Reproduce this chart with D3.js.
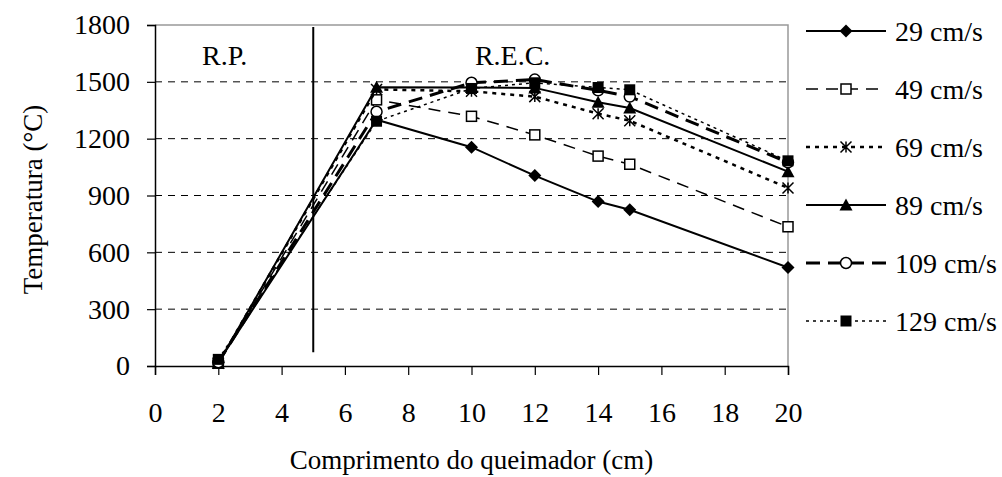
<!DOCTYPE html>
<html>
<head>
<meta charset="utf-8">
<script src="https://cdn.jsdelivr.net/npm/d3@7/dist/d3.min.js"></script>
<style>
  html, body { margin: 0; padding: 0; background: #fff; }
  svg text { font-family: "Liberation Serif", Tinos, "Times New Roman", "DejaVu Serif", serif !important; fill: #000; }
</style>
</head>
<body>
<svg id="chart" width="1002" height="477"></svg>
<script>
// Burner length positions (cm)
const positions = [2, 7, 10, 12, 14, 15, 20];

// Temperature (°C) per flow velocity
const v29  = [20, 1300, 1155, 1005, 868, 825, 520];
const v49  = [15, 1405, 1318, 1220, 1108, 1065, 735];
const v69  = [15, 1460, 1450, 1422, 1332, 1295, 940];
const v89  = [15, 1472, 1470, 1468, 1392, 1362, 1026];
const v109 = [20, 1342, 1495, 1512, 1455, 1422, 1075];
const v129 = [35, 1292, 1465, 1495, 1470, 1458, 1083];

const seriesNames = ["29 cm/s", "49 cm/s", "69 cm/s", "89 cm/s", "109 cm/s", "129 cm/s"];
const xTicks = [0, 2, 4, 6, 8, 10, 12, 14, 16, 18, 20];
const yTicks = [0, 300, 600, 900, 1200, 1500, 1800];
const regionLabels = ["R.P.", "R.E.C."];

const series = [
  { name: seriesNames[0], values: v29,  dash: null,    width: 2,   marker: "diamond" },
  { name: seriesNames[1], values: v49,  dash: "12,8",  width: 1.5, marker: "openSquare" },
  { name: seriesNames[2], values: v69,  dash: "4,5",   width: 2.5, marker: "asterisk" },
  { name: seriesNames[3], values: v89,  dash: null,    width: 2,   marker: "triangle" },
  { name: seriesNames[4], values: v109, dash: "14,8",  width: 3,   marker: "openCircle" },
  { name: seriesNames[5], values: v129, dash: "3,4",   width: 1.5, marker: "filledSquare" }
];

const serif = "'Liberation Serif', Tinos, 'Times New Roman', 'DejaVu Serif', serif";
const svg = d3.select("#chart");
const plot = { left: 155, right: 788, top: 25, bottom: 366 };

const x = d3.scaleLinear().domain([0, 20]).range([plot.left, plot.right]);
const y = d3.scaleLinear().domain([0, 1800]).range([plot.bottom, plot.top]);

// Horizontal dashed gridlines
svg.append("g")
  .selectAll("line")
  .data(yTicks.filter(t => t > 0 && t < 1800))
  .join("line")
  .attr("x1", plot.left).attr("x2", plot.right)
  .attr("y1", d => y(d)).attr("y2", d => y(d))
  .attr("stroke", "#000").attr("stroke-width", 1)
  .attr("stroke-dasharray", "7,6");

// Grey top and right plot border
svg.append("path")
  .attr("d", `M${plot.left},${plot.top}H${plot.right}V${plot.bottom}`)
  .attr("fill", "none").attr("stroke", "#999").attr("stroke-width", 1.5);

// Axes
const fontSize = 28;
const titleSize = 27;
const yAxis = svg.append("g")
  .attr("transform", `translate(${plot.left},0)`)
  .call(d3.axisLeft(y).tickValues(yTicks).tickSize(8).tickPadding(17).tickFormat(d3.format("d")));
const xAxis = svg.append("g")
  .attr("transform", `translate(0,${plot.bottom})`)
  .call(d3.axisBottom(x).tickValues(xTicks).tickSize(9).tickPadding(27).tickFormat(d3.format("d")));
[yAxis, xAxis].forEach(ax => {
  ax.attr("font-family", serif).attr("font-size", fontSize);
  ax.select(".domain").attr("stroke", "#000").attr("stroke-width", 1.5);
  ax.selectAll(".tick line").attr("stroke", "#000").attr("stroke-width", 1.2);
  ax.selectAll(".tick text").attr("fill", "#000");
});

// Axis titles
svg.append("text")
  .attr("x", x(10)).attr("y", 469)
  .attr("text-anchor", "middle").attr("font-size", titleSize)
  .text("Comprimento do queimador (cm)");
svg.append("text")
  .attr("transform", `translate(42,${(plot.top + plot.bottom) / 2 + 4}) rotate(-90)`)
  .attr("text-anchor", "middle").attr("font-size", titleSize)
  .text("Temperatura (°C)");

// Region divider at 5 cm
svg.append("line")
  .attr("x1", x(5)).attr("x2", x(5))
  .attr("y1", y(1790)).attr("y2", y(72))
  .attr("stroke", "#000").attr("stroke-width", 2);

// Region labels
svg.append("text").attr("x", x(2.2)).attr("y", 65)
  .attr("text-anchor", "middle").attr("font-size", fontSize).text(regionLabels[0]);
svg.append("text").attr("x", x(11.3)).attr("y", 65)
  .attr("text-anchor", "middle").attr("font-size", fontSize).text(regionLabels[1]);

// Marker drawing
function drawMarker(g, type, cx, cy) {
  const s = 5.5;
  switch (type) {
    case "diamond":
      g.append("path").attr("d", `M${cx},${cy - s - 1}L${cx + s + 1},${cy}L${cx},${cy + s + 1}L${cx - s - 1},${cy}Z`)
        .attr("fill", "#000");
      break;
    case "openSquare":
      g.append("rect").attr("x", cx - s + 0.5).attr("y", cy - s + 0.5)
        .attr("width", 2 * s - 1).attr("height", 2 * s - 1)
        .attr("fill", "#fff").attr("stroke", "#000").attr("stroke-width", 1.5);
      break;
    case "asterisk":
      g.append("path")
        .attr("d", `M${cx - s},${cy - s}L${cx + s},${cy + s}M${cx + s},${cy - s}L${cx - s},${cy + s}M${cx},${cy - s}V${cy + s}`)
        .attr("stroke", "#000").attr("stroke-width", 1.5).attr("fill", "none");
      break;
    case "triangle":
      g.append("path").attr("d", `M${cx},${cy - s - 1}L${cx + s + 1},${cy + s}L${cx - s - 1},${cy + s}Z`)
        .attr("fill", "#000");
      break;
    case "openCircle":
      g.append("circle").attr("cx", cx).attr("cy", cy).attr("r", s)
        .attr("fill", "#fff").attr("stroke", "#000").attr("stroke-width", 1.5);
      break;
    case "filledSquare":
      g.append("rect").attr("x", cx - s).attr("y", cy - s)
        .attr("width", 2 * s).attr("height", 2 * s).attr("fill", "#000");
      break;
  }
}

const line = d3.line().x(d => x(d[0])).y(d => y(d[1]));

// Series lines and markers
series.forEach(s => {
  const pts = positions.map((p, i) => [p, s.values[i]]);
  const g = svg.append("g");
  g.append("path").datum(pts)
    .attr("d", line)
    .attr("fill", "none").attr("stroke", "#000")
    .attr("stroke-width", s.width)
    .attr("stroke-dasharray", s.dash);
  pts.forEach(p => drawMarker(g, s.marker, x(p[0]), y(p[1])));
});

// Legend
const legend = svg.append("g");
series.forEach((s, i) => {
  const ly = 31 + i * 58;
  const row = legend.append("g");
  row.append("line")
    .attr("x1", 806).attr("x2", 886).attr("y1", ly).attr("y2", ly)
    .attr("stroke", "#000").attr("stroke-width", s.width)
    .attr("stroke-dasharray", s.dash);
  drawMarker(row, s.marker, 846, ly);
  row.append("text").attr("x", 895).attr("y", ly + 10)
    .attr("font-size", fontSize).text(s.name);
});
</script>
</body>
</html>
